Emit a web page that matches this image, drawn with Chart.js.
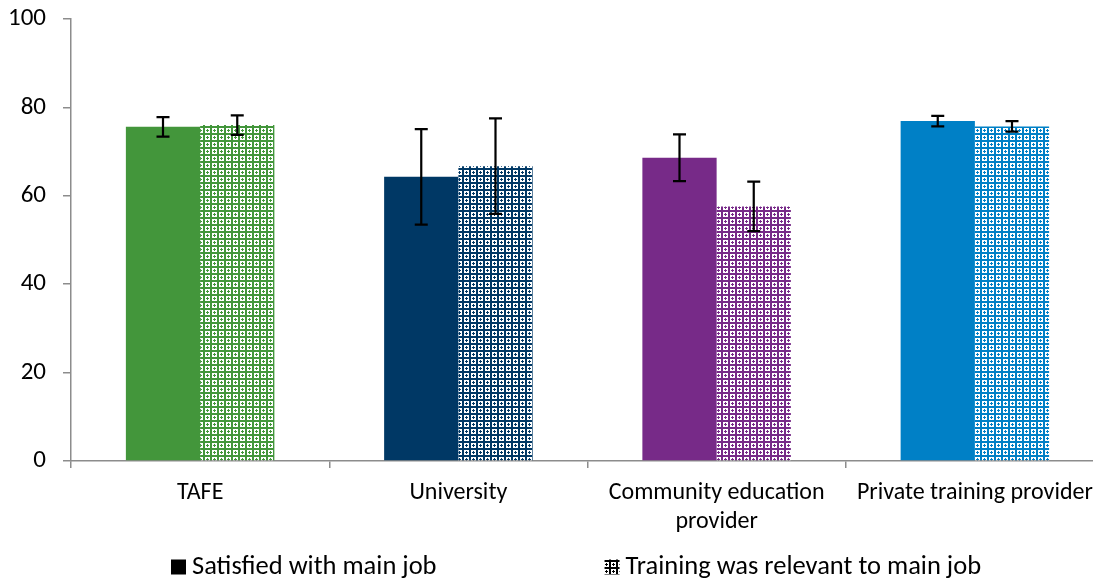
<!DOCTYPE html>
<html>
<head>
<meta charset="utf-8">
<script src="https://cdn.jsdelivr.net/npm/chart.js@4.4.0/dist/chart.umd.min.js"></script>
<style>
  html, body { margin: 0; padding: 0; background: #fff; overflow: hidden; }
  #wrap { position: relative; width: 1110px; height: 583px; }
</style>
</head>
<body>
<div id="wrap"><canvas id="chart"></canvas></div>
<script>
// Values
const categories = ['TAFE', 'University', ['Community education', 'provider'], 'Private training provider'];
const seriesLabels = ['Satisfied with main job', 'Training was relevant to main job'];
const satisfied = [75.6, 64.3, 68.6, 76.9];
const satisfiedErr = [2.2, 10.8, 5.3, 1.2];
const relevant = [76.0, 66.7, 57.6, 75.7];
const relevantErr = [2.2, 10.8, 5.6, 1.2];
const yTicks = [0, 20, 40, 60, 80, 100];

// Provider colours
const providerColors = ['#43963b', '#003865', '#772a88', '#0080c6'];
const FONT = "Carlito, Calibri, 'Open Sans', sans-serif";
const AXIS_GREY = '#8c8c8c';

// Lattice with small crosses, close to the Excel fill in the original
function makePattern(color) {
    const c = document.createElement('canvas');
    c.width = 7; c.height = 7;
    const g = c.getContext('2d');
    g.fillStyle = color;
    g.fillRect(0, 0, 7, 7);
    g.fillStyle = '#fff';
    g.fillRect(2, 2, 5, 5);
    g.fillStyle = color;
    g.fillRect(3, 4, 3, 1);
    g.fillRect(4, 3, 1, 3);
    return g.createPattern(c, 'repeat');
}

const ctx = document.getElementById('chart').getContext('2d');
const patterns = providerColors.map(makePattern);

// Error bars drawn over each bar through the y scale
const errorBars = {
    id: 'errorBars',
    afterDatasetsDraw(chart) {
        const y = chart.scales.y;
        const errs = [satisfiedErr, relevantErr];
        const g = chart.ctx;
        g.save();
        g.strokeStyle = '#000';
        g.lineWidth = 2.2;
        chart.data.datasets.forEach((ds, i) => {
            chart.getDatasetMeta(i).data.forEach((bar, j) => {
                const v = ds.data[j];
                const top = y.getPixelForValue(v + errs[i][j]);
                const bot = y.getPixelForValue(v - errs[i][j]);
                g.beginPath();
                g.moveTo(bar.x, top); g.lineTo(bar.x, bot);
                g.moveTo(bar.x - 6.5, top); g.lineTo(bar.x + 6.5, top);
                g.moveTo(bar.x - 6.5, bot); g.lineTo(bar.x + 6.5, bot);
                g.stroke();
            });
        });
        g.restore();
    }
};

// Legend at the bottom, with the wide gap of the original
const bottomLegend = {
    id: 'bottomLegend',
    afterDraw(chart) {
        const g = chart.ctx;
        g.save();
        g.font = '26.5px ' + FONT;
        g.textBaseline = 'middle';
        const box = 15, gap = 6, between = 168, yMid = 567;
        let x = 171;
        const swatches = ['#000', makePattern('#000')];
        seriesLabels.forEach((t, i) => {
            g.fillStyle = swatches[i];
            g.fillRect(x, yMid - box / 2, box, box);
            g.fillStyle = '#000';
            g.fillText(t, x + box + gap, yMid);
            x += box + gap + g.measureText(t).width + between;
        });
        g.restore();
    }
};

new Chart(ctx, {
    type: 'bar',
    data: {
        labels: categories,
        datasets: [{
            label: seriesLabels[0],
            data: satisfied,
            backgroundColor: providerColors,
            barPercentage: 1,
            categoryPercentage: 0.575
        }, {
            label: seriesLabels[1],
            data: relevant,
            backgroundColor: patterns,
            barPercentage: 1,
            categoryPercentage: 0.575
        }]
    },
    options: {
        responsive: true,
        maintainAspectRatio: false,
        animation: false,
        layout: { padding: { top: 19, right: 6, bottom: 46, left: 0 } },
        plugins: {
            legend: { display: false },
            tooltip: { enabled: false }
        },
        scales: {
            x: {
                grid: { drawOnChartArea: false, drawTicks: true, tickLength: 7, color: AXIS_GREY, lineWidth: 1.5 },
                border: { color: AXIS_GREY, width: 1.5 },
                ticks: { color: '#000', padding: 11, maxRotation: 0, autoSkip: false,
                         font: { family: FONT, size: 24, lineHeight: 1.2 } },
                afterFit(scale) { scale.height = 76; }
            },
            y: {
                min: 0,
                max: 100,
                afterBuildTicks(scale) { scale.ticks = yTicks.map(v => ({ value: v })); },
                grid: { drawOnChartArea: false, drawTicks: true, tickLength: 8, color: AXIS_GREY, lineWidth: 1.5 },
                border: { color: AXIS_GREY, width: 1.5 },
                ticks: { color: '#000', padding: 17, font: { family: FONT, size: 25 } },
                afterFit(scale) { scale.width = 71; scale.paddingTop = 0; }
            }
        }
    },
    plugins: [errorBars, bottomLegend]
});
</script>
</body>
</html>
